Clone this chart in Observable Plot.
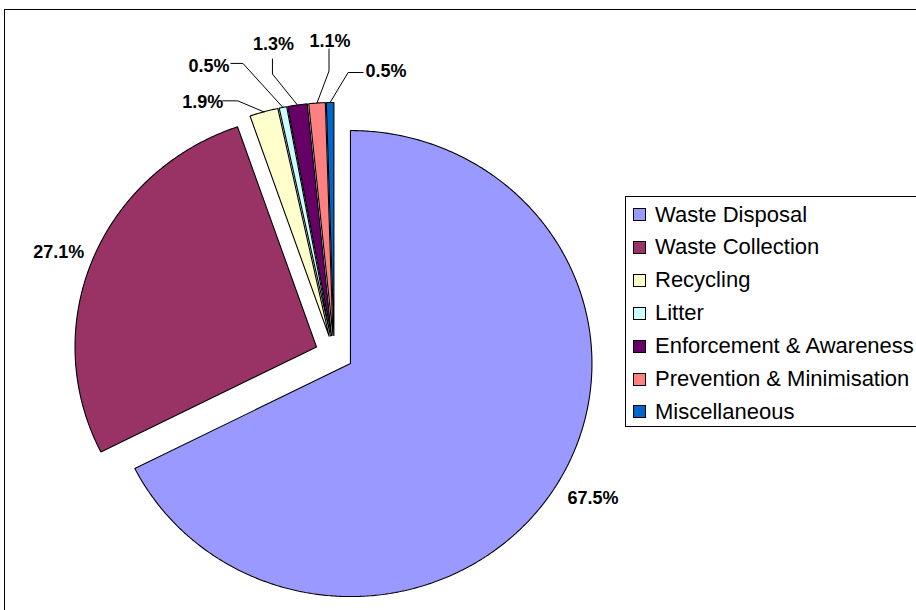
<!DOCTYPE html>
<html><head><meta charset="utf-8">
<script src="https://cdn.jsdelivr.net/npm/d3@7"></script>
<script src="https://cdn.jsdelivr.net/npm/@observablehq/plot@0.6"></script>
<style>
body{margin:0;background:#fff;overflow:hidden;width:916px;height:610px;position:relative;font-family:"Liberation Sans",Arial,sans-serif}
#frame{position:absolute;left:4px;top:9px;width:1000px;height:700px;border-left:1.6px solid #000;border-top:1.6px solid #000}
#chart{position:absolute;left:0;top:0}
#legend{position:absolute;left:625px;top:196px;width:400px;height:229px;border:1px solid #000;background:#fff}
.row{position:absolute;left:7px;height:26px;display:flex;align-items:center;font-size:22px;color:#000;white-space:nowrap}
.sw{width:11px;height:11px;border:1px solid #000;margin-right:9px;flex:none}
</style></head><body>
<div id="frame"></div><div id="chart"></div><div id="legend"></div>
<script>
// ---- data ----
const categories = ["Waste Disposal","Waste Collection","Recycling","Litter","Enforcement & Awareness","Prevention & Minimisation","Miscellaneous"];
const shares = [67.5, 27.1, 1.9, 0.5, 1.3, 1.1, 0.5];
const shareLabels = ["67.5%","27.1%","1.9%","0.5%","1.3%","1.1%","0.5%"];
const colors = ["#9999FF","#993366","#FFFFCC","#CCFFFF","#660066","#FF8080","#0066CC"];

// ---- layout ----
const CX = 333.7, CY = 353.4, RX = 241.5, RY = 233, EXPLODE = 0.079;
// label offsets (px) from the slice's outer-arc midpoint
const labelOffsets = [[37,13],[-34,-7],[-61,-10],[-74,-41],[-24,-61],[13,-62],[56,-31]];
// leader line points (px offsets from arc midpoint): [start, elbow]
const leaderOffsets = [null,null,
  [[-41,-11],[-26,-11]],
  [[-52,-44],[-40,-44]],
  [[-25,-46],[-25,-31]],
  [[12,-54],[12,-32]],
  [[33,-30],[18,-30]]];

const arcs = d3.pie().sort(null).value(d => d)(shares);
const slicePts = [], labelPts = [], leaderPts = [];
arcs.forEach((a, i) => {
  const name = categories[i];
  const m = (a.startAngle + a.endAngle) / 2;
  const ox = EXPLODE * Math.sin(m), oy = -EXPLODE * Math.cos(m);
  slicePts.push({name, x: ox, y: oy});
  const n = Math.max(2, Math.ceil((a.endAngle - a.startAngle) / (Math.PI / 360)));
  for (let k = 0; k <= n; k++) {
    const t = a.startAngle + (a.endAngle - a.startAngle) * k / n;
    slicePts.push({name, x: ox + Math.sin(t), y: oy - Math.cos(t)});
  }
  slicePts.push({name, x: ox, y: oy});
  const ax = ox + Math.sin(m), ay = oy - Math.cos(m);
  const [lx, ly] = labelOffsets[i];
  labelPts.push({x: ax + lx / RX, y: ay + ly / RY, text: shareLabels[i]});
  if (leaderOffsets[i]) {
    const [s, e] = leaderOffsets[i];
    leaderPts.push({name, x: ax + s[0] / RX, y: ay + s[1] / RY});
    leaderPts.push({name, x: ax + e[0] / RX, y: ay + e[1] / RY});
    leaderPts.push({name, x: ax, y: ay});
  }
});

const chart = Plot.plot({
  width: 916, height: 610, margin: 0,
  x: {domain: [-1, 1], range: [CX - RX, CX + RX], axis: null},
  y: {domain: [-1, 1], range: [CY - RY, CY + RY], axis: null},
  color: {domain: categories, range: colors},
  style: {background: "transparent", overflow: "visible"},
  marks: [
    Plot.line(slicePts, {x: "x", y: "y", z: "name", fill: "name", stroke: "#000", strokeWidth: 1.1, strokeLinejoin: "miter", curve: "linear"}),
    Plot.line(leaderPts, {x: "x", y: "y", z: "name", stroke: "#000", strokeWidth: 1, curve: "linear"}),
    Plot.text(labelPts, {x: "x", y: "y", text: "text", fontSize: 18, fontWeight: "bold", fontFamily: "Liberation Sans, Arial, sans-serif", fill: "#000"})
  ]
});
document.getElementById("chart").appendChild(chart);

const legend = document.getElementById("legend");
categories.forEach((c, i) => {
  const row = document.createElement("div");
  row.className = "row";
  row.style.top = (17.5 + i * 32.9 - 13) + "px";
  const sw = document.createElement("span");
  sw.className = "sw";
  sw.style.background = colors[i];
  const tx = document.createElement("span");
  tx.textContent = c;
  row.appendChild(sw); row.appendChild(tx);
  legend.appendChild(row);
});
</script>
</body></html>
